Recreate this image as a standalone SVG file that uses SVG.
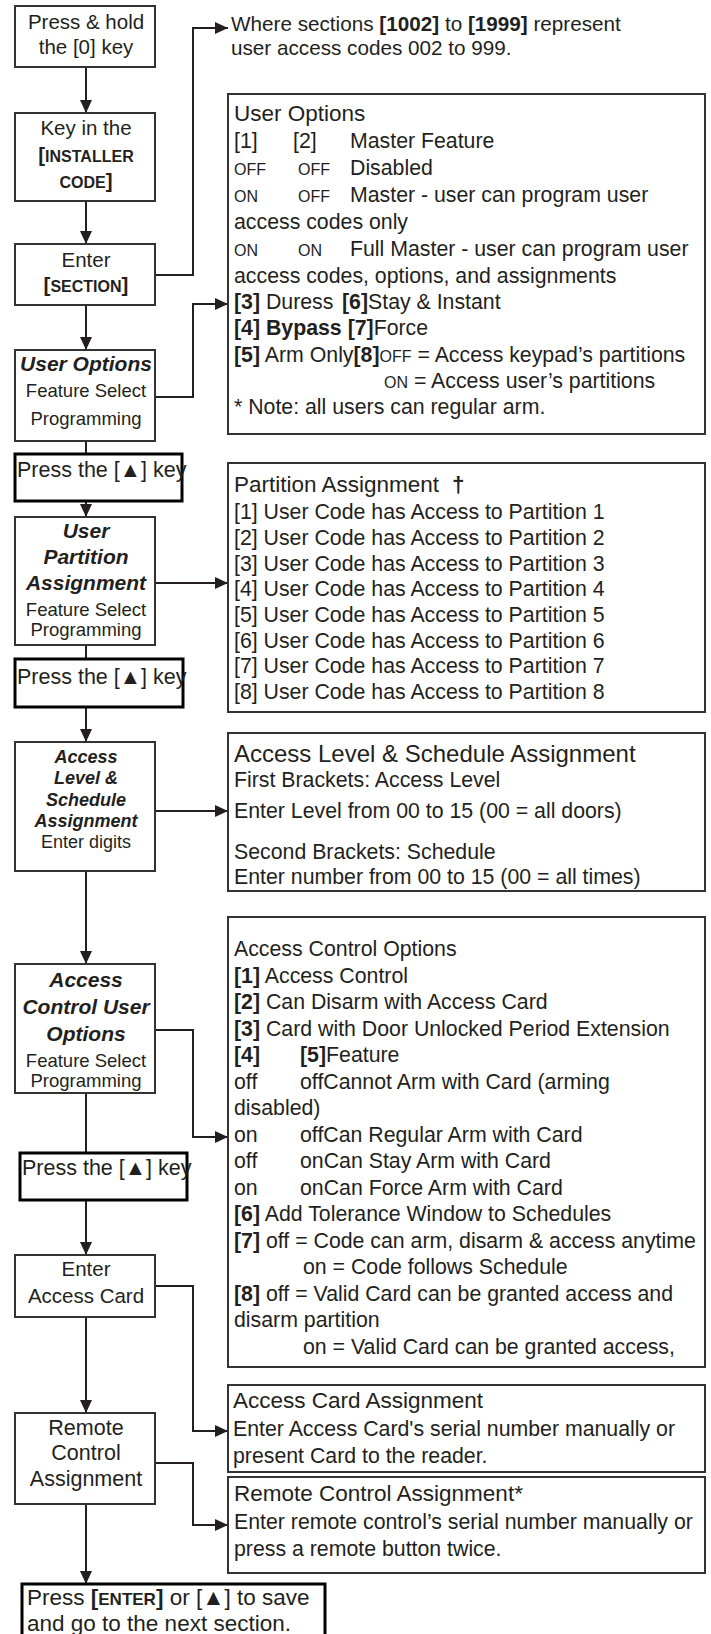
<svg xmlns="http://www.w3.org/2000/svg" width="711" height="1634" viewBox="0 0 711 1634">
<style>
text{font-family:"Liberation Sans","DejaVu Sans",Arial,sans-serif;fill:#231f20;}
.box{fill:#fff;stroke:#333;stroke-width:2;}
.pbox{fill:#fff;stroke:#000;stroke-width:3;}
.rbox{fill:#fff;stroke:#333;stroke-width:2;}
.c{text-anchor:middle;}
.l{font-size:20.5px;}
.p{font-size:21.5px;}
.fs{font-size:18.5px;}
.bi{font-size:21px;font-weight:bold;font-style:italic;}
.b{font-weight:bold;}
.r{font-size:21.3px;}
.t{font-size:22.5px;}
.sc{font-size:16px;}
.conn{fill:none;stroke:#231f20;stroke-width:2;}
</style>
<defs>
<marker id="ah" markerUnits="userSpaceOnUse" markerWidth="13" markerHeight="12" refX="13" refY="6" orient="auto">
<path d="M0,0 L13,6 L0,12 z" fill="#231f20"/>
</marker>
</defs>

<g id="connectors">
<line class="conn" x1="86" y1="67" x2="86" y2="113" marker-end="url(#ah)"/>
<line class="conn" x1="86" y1="201" x2="86" y2="244" marker-end="url(#ah)"/>
<line class="conn" x1="86" y1="305" x2="86" y2="350" marker-end="url(#ah)"/>
<line class="conn" x1="86" y1="441" x2="86" y2="454"/>
<line class="conn" x1="86" y1="501" x2="86" y2="517" marker-end="url(#ah)"/>
<line class="conn" x1="86" y1="645" x2="86" y2="659"/>
<line class="conn" x1="86" y1="707" x2="86" y2="742" marker-end="url(#ah)"/>
<line class="conn" x1="86" y1="871" x2="86" y2="964" marker-end="url(#ah)"/>
<line class="conn" x1="86" y1="1093" x2="86" y2="1153"/>
<line class="conn" x1="86" y1="1200" x2="86" y2="1255" marker-end="url(#ah)"/>
<line class="conn" x1="86" y1="1317" x2="86" y2="1413" marker-end="url(#ah)"/>
<line class="conn" x1="86" y1="1504" x2="86" y2="1584" marker-end="url(#ah)"/>
<polyline class="conn" points="155,275 193,275 193,28 228,28" marker-end="url(#ah)"/>
<polyline class="conn" points="155,397 193,397 193,304 228,304" marker-end="url(#ah)"/>
<line class="conn" x1="155" y1="583" x2="228" y2="583" marker-end="url(#ah)"/>
<line class="conn" x1="155" y1="811" x2="228" y2="811" marker-end="url(#ah)"/>
<polyline class="conn" points="155,1030 193,1030 193,1137 228,1137" marker-end="url(#ah)"/>
<polyline class="conn" points="155,1286 193,1286 193,1431 228,1431" marker-end="url(#ah)"/>
<polyline class="conn" points="155,1463 193,1463 193,1525 228,1525" marker-end="url(#ah)"/>
</g>

<g id="n-press-hold">
<rect class="box" x="15" y="6" width="140" height="61"/>
<text class="l c" x="86" y="29">Press &amp; hold</text>
<text class="l c" x="86" y="54">the [0] key</text>
</g>

<g id="n-installer">
<rect class="box" x="15" y="113" width="140" height="88"/>
<text class="l c" x="86" y="135">Key in the</text>
<text class="c b" x="86" y="162" font-size="20.5">[<tspan font-size="16">INSTALLER</tspan></text>
<text class="c b" x="86" y="188" font-size="20.5"><tspan font-size="16">CODE</tspan>]</text>
</g>

<g id="n-section">
<rect class="box" x="15" y="244" width="140" height="61"/>
<text class="l c" x="86" y="267">Enter</text>
<text class="c b" x="86" y="292" font-size="20.5">[<tspan font-size="16">SECTION</tspan>]</text>
</g>

<g id="n-user-options">
<rect class="box" x="15" y="350" width="140" height="91"/>
<text class="bi c" x="86" y="371">User Options</text>
<text class="fs c" x="86" y="397">Feature Select</text>
<text class="fs c" x="86" y="425">Programming</text>
</g>

<g id="n-press1">
<rect class="pbox" x="15" y="454" width="167" height="47"/>
<text class="p" x="17" y="477">Press the [▲] key</text>
</g>

<g id="n-user-partition">
<rect class="box" x="15" y="517" width="140" height="128"/>
<text class="bi c" x="86" y="538">User</text>
<text class="bi c" x="86" y="564">Partition</text>
<text class="bi c" x="86" y="590">Assignment</text>
<text class="fs c" x="86" y="616">Feature Select</text>
<text class="fs c" x="86" y="636">Programming</text>
</g>

<g id="n-press2">
<rect class="pbox" x="15" y="659" width="168" height="48"/>
<text class="p" x="17" y="684">Press the [▲] key</text>
</g>

<g id="n-access-level">
<rect class="box" x="15" y="742" width="140" height="129"/>
<text class="c b" x="86" y="763" font-size="18" font-style="italic">Access</text>
<text class="c b" x="86" y="784" font-size="18" font-style="italic">Level &amp;</text>
<text class="c b" x="86" y="806" font-size="18" font-style="italic">Schedule</text>
<text class="c b" x="86" y="827" font-size="18" font-style="italic">Assignment</text>
<text class="c" x="86" y="848" font-size="18">Enter digits</text>
</g>

<g id="n-access-control">
<rect class="box" x="15" y="964" width="140" height="129"/>
<text class="bi c" x="86" y="987">Access</text>
<text class="bi c" x="86" y="1014">Control User</text>
<text class="bi c" x="86" y="1041">Options</text>
<text class="fs c" x="86" y="1067">Feature Select</text>
<text class="fs c" x="86" y="1087">Programming</text>
</g>

<g id="n-press3">
<rect class="pbox" x="20" y="1153" width="167" height="47"/>
<text class="p" x="22" y="1175">Press the [▲] key</text>
</g>

<g id="n-access-card">
<rect class="box" x="15" y="1255" width="140" height="62"/>
<text class="l c" x="86" y="1276">Enter</text>
<text class="l c" x="86" y="1303">Access Card</text>
</g>

<g id="n-remote">
<rect class="box" x="15" y="1413" width="140" height="91"/>
<text class="c" x="86" y="1435" font-size="21.5">Remote</text>
<text class="c" x="86" y="1460" font-size="21.5">Control</text>
<text class="c" x="86" y="1486" font-size="21.5">Assignment</text>
</g>

<g id="n-final">
<rect class="pbox" x="22" y="1584" width="303" height="60"/>
<text x="27" y="1605" font-size="22.5">Press <tspan class="b">[<tspan font-size="17">ENTER</tspan>]</tspan> or [▲] to save</text>
<text x="27" y="1631" font-size="22.5">and go to the next section.</text>
</g>

<g id="n-where">
<text x="231" y="31" font-size="20.7">Where sections <tspan class="b">[1002]</tspan> to <tspan class="b">[1999]</tspan> represent</text>
<text x="231" y="55" font-size="20.7">user access codes 002 to 999.</text>
</g>

<g id="n-user-options-detail">
<rect class="rbox" x="228" y="94" width="477" height="340"/>
<text class="t" x="234" y="121">User Options</text>
<text class="r" x="234" y="148">[1]</text><text class="r" x="293" y="148">[2]</text><text class="r" x="350" y="148">Master Feature</text>
<text class="sc" x="234" y="175">OFF</text><text class="sc" x="298" y="175">OFF</text><text class="r" x="350" y="175">Disabled</text>
<text class="sc" x="234" y="202">ON</text><text class="sc" x="298" y="202">OFF</text><text class="r" x="350" y="202">Master - user can program user</text>
<text class="r" x="234" y="229">access codes only</text>
<text class="sc" x="234" y="256">ON</text><text class="sc" x="298" y="256">ON</text><text class="r" x="350" y="256">Full Master - user can program user</text>
<text class="r" x="234" y="283">access codes, options, and assignments</text>
<text class="r" x="234" y="309"><tspan class="b">[3]</tspan> Duress</text>
<text class="r" x="342" y="309"><tspan class="b">[6]</tspan>Stay &amp; Instant</text>
<text class="r" x="234" y="335"><tspan class="b">[4] Bypass</tspan> <tspan class="b">[7]</tspan>Force</text>
<text class="r" x="234" y="362"><tspan class="b">[5]</tspan> Arm Only<tspan class="b">[8]</tspan><tspan font-size="16">OFF</tspan> = Access keypad’s partitions</text>
<text class="r" x="384" y="388"><tspan font-size="16">ON</tspan> = Access user’s partitions</text>
<text class="r" x="234" y="414">* Note: all users can regular arm.</text>
</g>

<g id="n-partition-detail">
<rect class="rbox" x="228" y="463" width="477" height="249"/>
<text class="t" x="234" y="492">Partition Assignment</text>
<text class="t b" x="452" y="492">†</text>
<text class="r" x="234" y="519">[1] User Code has Access to Partition 1</text>
<text class="r" x="234" y="545">[2] User Code has Access to Partition 2</text>
<text class="r" x="234" y="571">[3] User Code has Access to Partition 3</text>
<text class="r" x="234" y="596">[4] User Code has Access to Partition 4</text>
<text class="r" x="234" y="622">[5] User Code has Access to Partition 5</text>
<text class="r" x="234" y="648">[6] User Code has Access to Partition 6</text>
<text class="r" x="234" y="673">[7] User Code has Access to Partition 7</text>
<text class="r" x="234" y="699">[8] User Code has Access to Partition 8</text>
</g>

<g id="n-access-level-detail">
<rect class="rbox" x="228" y="733" width="477" height="158"/>
<text x="234" y="762" font-size="24">Access Level &amp; Schedule Assignment</text>
<text class="r" x="234" y="787">First Brackets: Access Level</text>
<text class="r" x="234" y="818">Enter Level from 00 to 15 (00 = all doors)</text>
<text class="r" x="234" y="859">Second Brackets: Schedule</text>
<text class="r" x="234" y="884">Enter number from 00 to 15 (00 = all times)</text>
</g>

<g id="n-access-control-detail">
<rect class="rbox" x="228" y="917" width="477" height="450"/>
<text class="r" x="234" y="956">Access Control Options</text>
<text class="r" x="234" y="983"><tspan class="b">[1]</tspan> Access Control</text>
<text class="r" x="234" y="1009"><tspan class="b">[2]</tspan> Can Disarm with Access Card</text>
<text class="r" x="234" y="1036"><tspan class="b">[3]</tspan> Card with Door Unlocked Period Extension</text>
<text class="r b" x="234" y="1062">[4]</text><text class="r" x="300" y="1062"><tspan class="b">[5]</tspan>Feature</text>
<text class="r" x="234" y="1089">off</text><text class="r" x="300" y="1089">offCannot Arm with Card (arming</text>
<text class="r" x="234" y="1115">disabled)</text>
<text class="r" x="234" y="1142">on</text><text class="r" x="300" y="1142">offCan Regular Arm with Card</text>
<text class="r" x="234" y="1168">off</text><text class="r" x="300" y="1168">onCan Stay Arm with Card</text>
<text class="r" x="234" y="1195">on</text><text class="r" x="300" y="1195">onCan Force Arm with Card</text>
<text class="r" x="234" y="1221"><tspan class="b">[6]</tspan> Add Tolerance Window to Schedules</text>
<text class="r" x="234" y="1248"><tspan class="b">[7]</tspan> off = Code can arm, disarm &amp; access anytime</text>
<text class="r" x="303" y="1274">on = Code follows Schedule</text>
<text class="r" x="234" y="1301"><tspan class="b">[8]</tspan> off = Valid Card can be granted access and</text>
<text class="r" x="234" y="1327">disarm partition</text>
<text class="r" x="303" y="1354">on = Valid Card can be granted access,</text>
</g>

<g id="n-access-card-detail">
<rect class="rbox" x="228" y="1385" width="477" height="87"/>
<text class="t" x="233" y="1408">Access Card Assignment</text>
<text class="r" x="233" y="1436">Enter Access Card's serial number manually or</text>
<text class="r" x="233" y="1463">present Card to the reader.</text>
</g>

<g id="n-remote-detail">
<rect class="rbox" x="228" y="1477" width="477" height="96"/>
<text class="t" x="234" y="1501">Remote Control Assignment*</text>
<text class="r" x="234" y="1529">Enter remote control’s serial number manually or</text>
<text class="r" x="234" y="1556">press a remote button twice.</text>
</g>
</svg>
